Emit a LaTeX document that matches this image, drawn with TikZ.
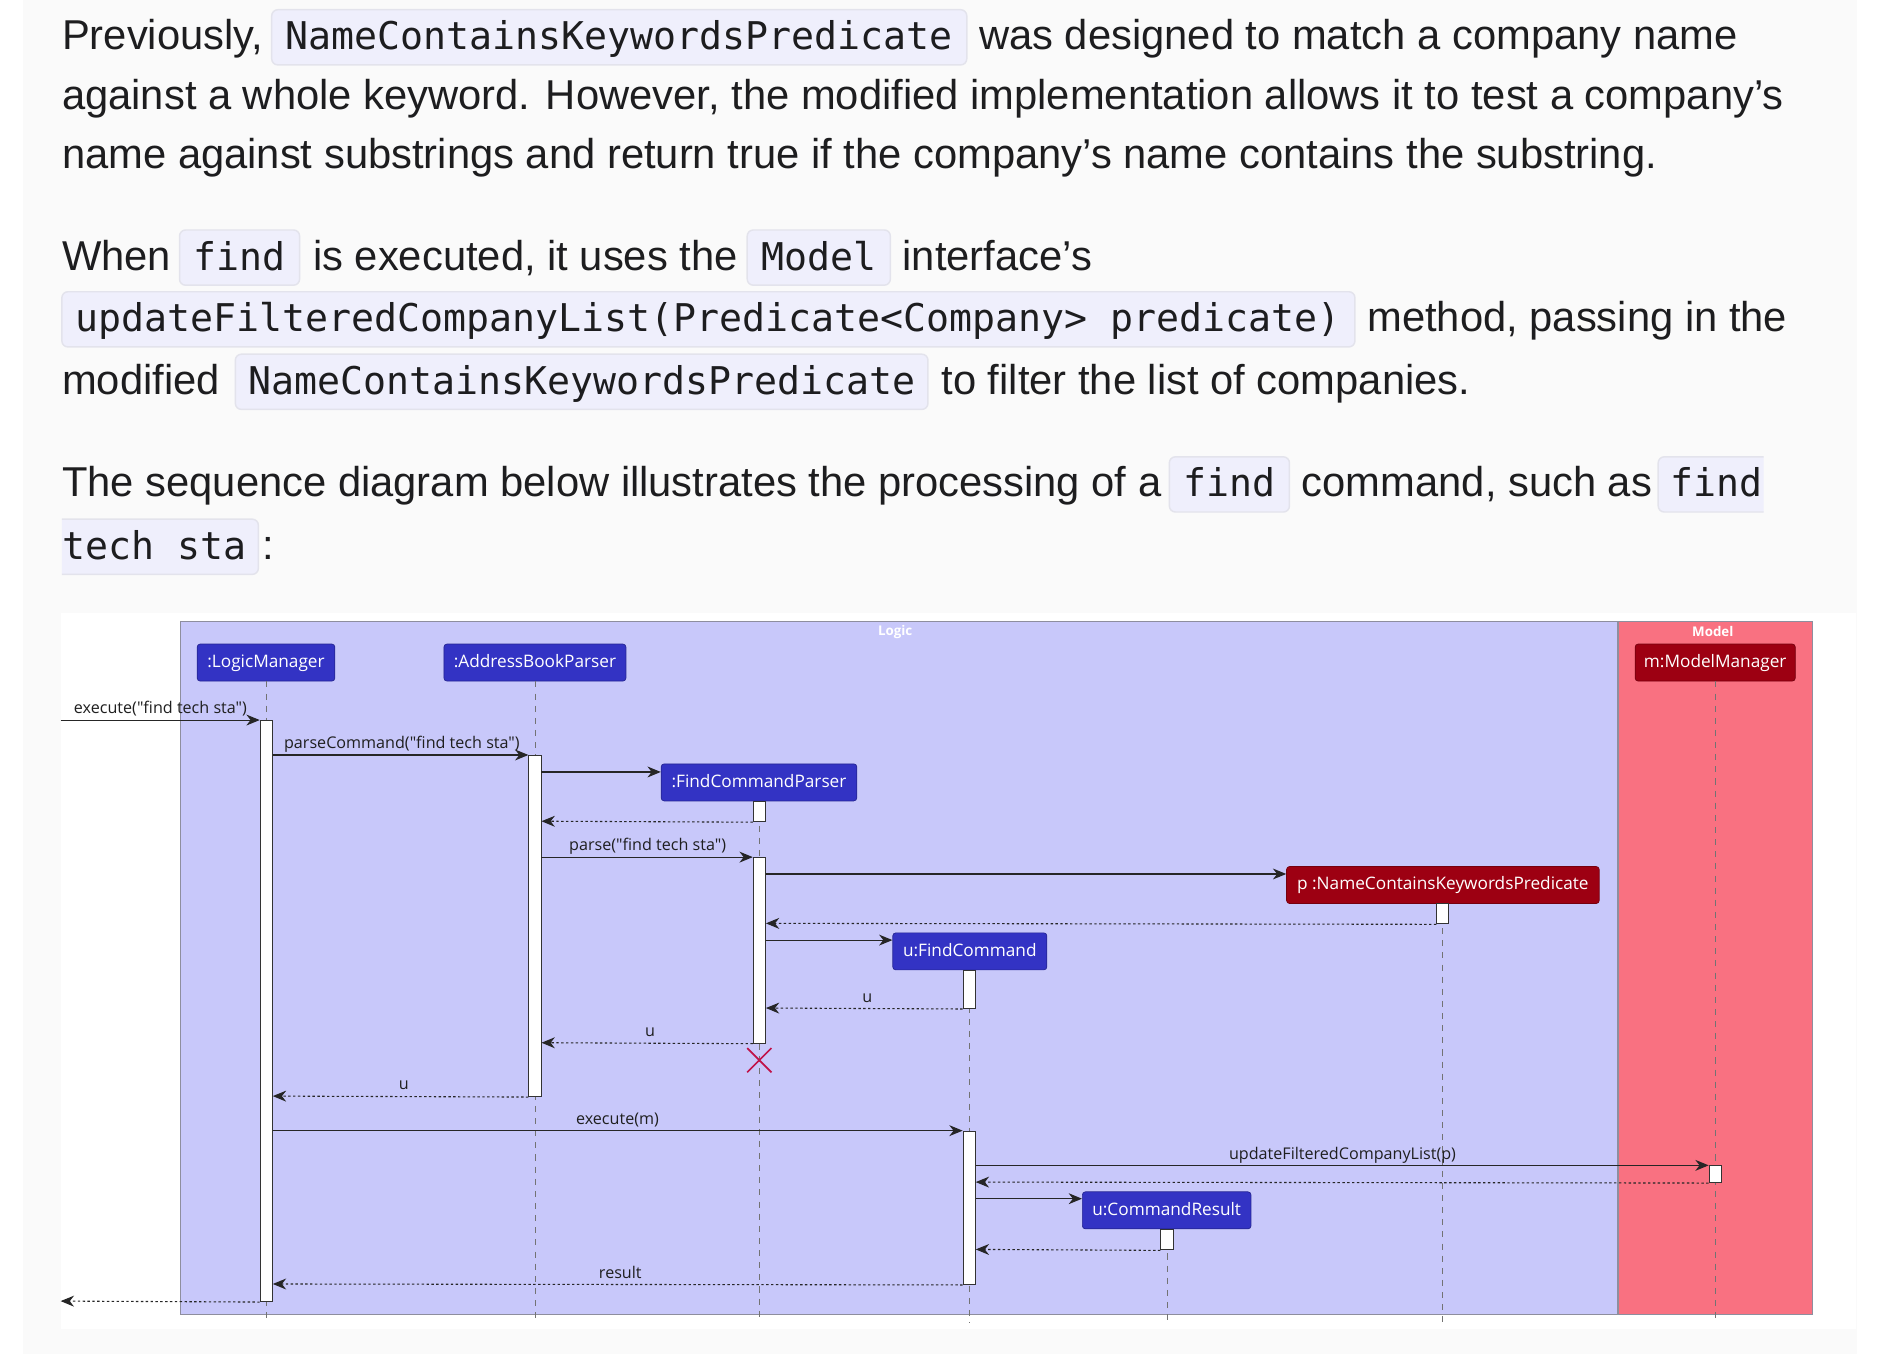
\documentclass[tikz,border=0pt]{standalone}
\usepackage{fontspec}
\setmainfont{Liberation Sans}
\newfontfamily\codefont{DejaVu Sans Mono}
\newfontfamily\umlfont{Open Sans}
\usetikzlibrary{arrows.meta}
\definecolor{bodytext}{HTML}{1D1D1F}
\definecolor{pagebg}{HTML}{FAFAFA}
\definecolor{codebg}{HTML}{EFEFFC}
\definecolor{codeborder}{HTML}{E3E3EC}
\definecolor{logicbg}{HTML}{C8C8FA}
\definecolor{modelbg}{HTML}{F97181}
\definecolor{logicc}{HTML}{3333C4}
\definecolor{modelc}{HTML}{9D0012}
\definecolor{framec}{HTML}{8E8E9E}
\definecolor{arrowc}{HTML}{262626}
\definecolor{destroyc}{HTML}{C0134A}
\tikzset{
  txt/.style={anchor=base west, inner sep=0pt, text=bodytext, font=\fontsize{34.4}{41}\selectfont},
  code/.style={anchor=base, inner sep=0pt, text=bodytext, font=\codefont\fontsize{31.5}{38}\selectfont},
  codebox/.style={fill=codebg, draw=codeborder, line width=1.2pt, rounded corners=5pt},
  part/.style={fill=logicc, draw=logicc!75!black, line width=0.6pt, rounded corners=2.5pt, text=white,
    font=\umlfont\fontsize{14.2}{16}\selectfont, inner sep=0pt, minimum height=30.5pt,
    text height=0.98em, text depth=0.2em},
  mpart/.style={part, fill=modelc, draw=modelc!75!black},
  act/.style={draw=black!80, fill=white, line width=0.8pt, minimum width=10pt, inner sep=0pt, anchor=north},
  msg/.style={draw=arrowc, line width=0.9pt, -{Stealth[length=11pt,width=9pt,inset=3.5pt]}},
  ret/.style={msg, dash pattern=on 2pt off 2pt},
  lbl/.style={font=\umlfont\fontsize{13.3}{15}\selectfont, text=black!88, inner sep=0pt},
  life/.style={draw=black!55, line width=0.7pt, dash pattern=on 5pt off 5pt},
  grp/.style={font=\umlfont\bfseries\fontsize{11}{13}\selectfont, text=white, inner sep=0pt},
}
\begin{document}
\begin{tikzpicture}[x=1pt,y=-1pt]
\useasboundingbox (0,0) rectangle (1568,1116);
\fill[white] (0,0) rectangle (1568,1116);
\fill[pagebg] (19,0) rectangle (1531,1116);

% ---------- paragraph text ----------
% line 1 (baseline 41)
\filldraw[codebox] (224,8) rectangle (797,53.5);
\node[txt] (t1a) at (51,41) {Previously,};
\node[code] (c1) at (510.5,41) {NameContainsKeywordsPredicate};
\node[txt] (t1b) at (807,41) {was designed to match a company name};
% line 2
\node[txt] (t2) at (51,90) {against a whole keyword. However, the modified implementation allows it to test a company’s};
% line 3
\node[txt] (t3) at (51,139) {name against substrings and return true if the company’s name contains the substring.};
% line 4 (baseline 222.6)
\filldraw[codebox] (148,189.6) rectangle (247,235.1);
\filldraw[codebox] (616,189.6) rectangle (734,235.1);
\node[txt] (t4a) at (51,222.6) {When};
\node[code] (c4a) at (197.5,222.6) {find};
\node[txt] (t4b) at (258,222.6) {is executed, it uses the};
\node[code] (c4b) at (675,222.6) {Model};
\node[txt] (t4c) at (744,222.6) {interface’s};
% line 5 (baseline 273.5)
\filldraw[codebox] (51,240.5) rectangle (1117,286);
\node[code] (c5) at (584,273.5) {updateFilteredCompanyList(Predicate<Company> predicate)};
\node[txt] (t5) at (1127,273.5) {method, passing in the};
% line 6 (baseline 325)
\filldraw[codebox] (194,292) rectangle (765,337.5);
\node[txt] (t6a) at (51,325) {modified};
\node[code] (c6) at (479.5,325) {NameContainsKeywordsPredicate};
\node[txt] (t6b) at (776,325) {to filter the list of companies.};
% line 7 (baseline 409.6)
\filldraw[codebox] (964,376.6) rectangle (1063,422.1);
\node[txt] (t7a) at (51,409.6) {The sequence diagram below illustrates the processing of a};
\node[code] (c7a) at (1013.5,409.6) {find};
\node[txt] (t7b) at (1073,409.6) {command, such as};
\fill[codebg] (1454,376.6) -- (1372,376.6) arc[start angle=90,end angle=180,radius=5pt] -- (1367,417.1) arc[start angle=180,end angle=270,radius=5pt] -- (1454,422.1) -- cycle;
\draw[codeborder, line width=1.2pt, rounded corners=5pt] (1454,376.6) -- (1367,376.6) -- (1367,422.1) -- (1454,422.1);
\node[code, anchor=base west] (c7b) at (1377,409.6) {find};
% line 8 (baseline 461)
\fill[codebg] (51,428) -- (208,428) arc[start angle=90,end angle=0,radius=5pt] -- (213,468.5) arc[start angle=0,end angle=-90,radius=5pt] -- (51,473.5) -- cycle;
\draw[codeborder, line width=1.2pt, rounded corners=5pt] (51,428) -- (213,428) -- (213,473.5) -- (51,473.5);
\node[code, anchor=base west] (c8) at (51,461) {tech sta};
\node[txt] (t8) at (216,461) {:};

% ---------- diagram ----------
\fill[white] (50,505.6) rectangle (1530,1096);
\filldraw[fill=logicbg, draw=framec, line width=0.9pt] (149,512.5) rectangle (1333.5,1084);
\filldraw[fill=modelbg, draw=framec, line width=0.9pt] (1334.5,512.5) rectangle (1494,1084);
\node[grp] (gLogic) at (738,521) {Logic};
\node[grp] (gModel) at (1412,521) {Model};

% participants
\node[part, minimum width=113.5pt] (pLM) at (219.3,546.2) {:LogicManager};
\node[part, minimum width=150pt] (pABP) at (441,546.2) {:AddressBookParser};
\node[part, minimum width=161.3pt] (pFCP) at (625.7,645) {:FindCommandParser};
\node[mpart, minimum width=257.7pt] (pPred) at (1189.5,729.6) {p :NameContainsKeywordsPredicate};
\node[part, minimum width=127pt] (pFC) at (799.5,784.3) {u:FindCommand};
\node[part, minimum width=139pt] (pCR) at (961.8,997.8) {u:CommandResult};
\node[mpart, minimum width=132pt] (pMM) at (1414,546.2) {m:ModelManager};

% lifelines
\coordinate (eLM) at (219.5,1090.5);
\coordinate (eABP) at (441,1090.5);
\coordinate (eFCP) at (626,1090.5);
\coordinate (ePred) at (1189.5,1090.5);
\coordinate (eFC) at (799,1090.5);
\coordinate (eCR) at (962,1090.5);
\coordinate (eMM) at (1414,1090.5);
\draw[life] (pLM.south -| eLM) -- (eLM);
\draw[life] (pABP.south -| eABP) -- (eABP);
\draw[life] (pFCP.south -| eFCP) -- (eFCP);
\draw[life] (pPred.south -| ePred) -- (ePred);
\draw[life] (pFC.south -| eFC) -- (eFC);
\draw[life] (pCR.south -| eCR) -- (eCR);
\draw[life] (pMM.south -| eMM) -- (eMM);

% activations
\node[act, minimum height=479pt] (aLM) at (219.5,593.6) {};
\node[act, minimum height=281.2pt] (aABP) at (441,622.4) {};
\node[act, minimum height=17pt] (aFCP1) at (626,660) {};
\node[act, minimum height=153pt] (aFCP2) at (626,706.6) {};
\node[act, minimum height=16.5pt] (aPred) at (1189.5,744.7) {};
\node[act, minimum height=31.3pt] (aFC1) at (799,799.7) {};
\node[act, minimum height=126.4pt] (aFC2) at (799,932.1) {};
\node[act, minimum height=17pt] (aCR) at (962,1013) {};
\node[act, minimum height=13.8pt] (aMM) at (1414,960.7) {};

% messages
\coordinate (in) at (50,593.6);
\coordinate (out) at (50,1072.6);
\draw[msg] (in) -- (aLM.north west);
\node[lbl, anchor=base west] (l1) at (60.8,588) {execute("find tech sta")};
\draw[msg] (aLM.east |- 0,622.4) -- (aABP.north west);
\node[lbl, anchor=base west] (l2) at (234,617) {parseCommand("find tech sta")};
\draw[msg] (aABP.east |- 0,636.4) -- (pFCP.west |- 0,636.4);
\draw[ret] (aFCP1.south west) -- (aABP.east |- 0,677);
\draw[msg] (aABP.east |- 0,706.6) -- (aFCP2.north west);
\node[lbl, anchor=base west] (l3) at (469,701.5) {parse("find tech sta")};
\draw[msg] (aFCP2.east |- 0,720.5) -- (pPred.west |- 0,720.5);
\draw[ret] (aPred.south west) -- (aFCP2.east |- 0,761.2);
\draw[msg] (aFCP2.east |- 0,775) -- (pFC.west |- 0,775);
\draw[ret] (aFC1.south west) -- (aFCP2.east |- 0,831);
\node[lbl, anchor=base] (l4) at (715,826.3) {u};
\draw[ret] (aFCP2.south west) -- (aABP.east |- 0,859.6);
\node[lbl, anchor=base] (l5) at (536,854.8) {u};
\draw[destroyc, line width=1.4pt] (616,864) -- (636,884) (636,864) -- (616,884);
\draw[ret] (aABP.south west) -- (aLM.east |- 0,903.6);
\node[lbl, anchor=base] (l6) at (333,898.5) {u};
\draw[msg] (aLM.east |- 0,932.1) -- (aFC2.north west);
\node[lbl, anchor=base west] (l7) at (474.7,927.3) {execute(m)};
\draw[msg] (aFC2.east |- 0,960.7) -- (aMM.north west);
\node[lbl, anchor=base west] (l8) at (1013,956) {updateFilteredCompanyList(p)};
\draw[ret] (aMM.south west) -- (aFC2.east |- 0,974.5);
\draw[msg] (aFC2.east |- 0,988.2) -- (pCR.west |- 0,988.2);
\draw[ret] (aCR.south west) -- (aFC2.east |- 0,1030);
\draw[ret] (aFC2.south west) -- (aLM.east |- 0,1058.5);
\node[lbl, anchor=base west] (l9) at (493.6,1054) {result};
\draw[ret] (aLM.south west) -- (out);
\end{tikzpicture}
\end{document}
